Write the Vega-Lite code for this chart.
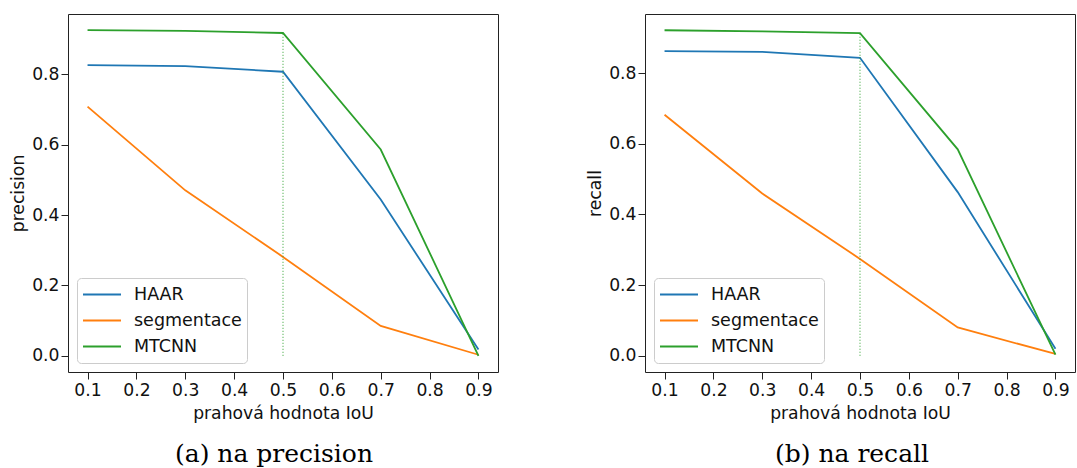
{
  "$schema": "https://vega.github.io/schema/vega-lite/v6.json",
  "padding": {"left": 8, "top": 13, "right": 0, "bottom": 0},
  "background": "white",
  "config": {
    "font": "DejaVu Sans",
    "view": {"stroke": "#222222", "strokeWidth": 1},
    "axis": {
      "grid": false, "domain": false, "tickColor": "#222222", "tickSize": 7, "tickWidth": 1,
      "labelFontSize": 17.2, "titleFontSize": 17.2, "labelColor": "#111111", "titleColor": "#111111",
      "titleFontWeight": "normal", "labelFont": "DejaVu Sans", "titleFont": "DejaVu Sans"
    },
    "axisX": {"labelPadding": 2, "titlePadding": 6},
    "axisY": {"labelPadding": 2, "titlePadding": 4.5},
    "legend": {
      "symbolType": "stroke", "symbolStrokeWidth": 2, "symbolSize": 1444,
      "labelFontSize": 17.5, "labelColor": "#111111", "labelFont": "DejaVu Sans", "labelOffset": 12,
      "strokeColor": "#cccccc", "fillColor": "rgba(255,255,255,0.8)", "cornerRadius": 4,
      "padding": 5, "clipHeight": 23, "rowPadding": 3, "offset": 9
    },
    "title": {"font": "DejaVu Serif", "fontSize": 25, "fontWeight": "normal", "color": "black", "orient": "bottom", "anchor": "middle", "offset": 21},
    "concat": {"spacing": 86}
  },
  "datasets": {
    "precision": [
      {"iou": 0.1, "method": "HAAR", "value": 0.826},
      {"iou": 0.3, "method": "HAAR", "value": 0.823},
      {"iou": 0.5, "method": "HAAR", "value": 0.807},
      {"iou": 0.7, "method": "HAAR", "value": 0.444},
      {"iou": 0.9, "method": "HAAR", "value": 0.018},
      {"iou": 0.1, "method": "segmentace", "value": 0.708},
      {"iou": 0.3, "method": "segmentace", "value": 0.470},
      {"iou": 0.5, "method": "segmentace", "value": 0.281},
      {"iou": 0.7, "method": "segmentace", "value": 0.085},
      {"iou": 0.9, "method": "segmentace", "value": 0.003},
      {"iou": 0.1, "method": "MTCNN", "value": 0.925},
      {"iou": 0.3, "method": "MTCNN", "value": 0.923},
      {"iou": 0.5, "method": "MTCNN", "value": 0.917},
      {"iou": 0.7, "method": "MTCNN", "value": 0.586},
      {"iou": 0.9, "method": "MTCNN", "value": 0.0}
    ],
    "recall": [
      {"iou": 0.1, "method": "HAAR", "value": 0.862},
      {"iou": 0.3, "method": "HAAR", "value": 0.860},
      {"iou": 0.5, "method": "HAAR", "value": 0.843},
      {"iou": 0.7, "method": "HAAR", "value": 0.463},
      {"iou": 0.9, "method": "HAAR", "value": 0.020},
      {"iou": 0.1, "method": "segmentace", "value": 0.682},
      {"iou": 0.3, "method": "segmentace", "value": 0.459},
      {"iou": 0.5, "method": "segmentace", "value": 0.274},
      {"iou": 0.7, "method": "segmentace", "value": 0.080},
      {"iou": 0.9, "method": "segmentace", "value": 0.005},
      {"iou": 0.1, "method": "MTCNN", "value": 0.921},
      {"iou": 0.3, "method": "MTCNN", "value": 0.918},
      {"iou": 0.5, "method": "MTCNN", "value": 0.913},
      {"iou": 0.7, "method": "MTCNN", "value": 0.584},
      {"iou": 0.9, "method": "MTCNN", "value": 0.003}
    ],
    "markerP": [{"iou": 0.5, "low": 0.0, "high": 0.917}],
    "markerR": [{"iou": 0.5, "low": 0.0, "high": 0.913}]
  },
  "resolve": {"legend": {"color": "independent"}},
  "hconcat": [
    {
      "width": 430, "height": 358,
      "title": {"text": "(a) na precision", "dx": -9},
      "layer": [
        {
          "data": {"name": "precision"},
          "mark": {"type": "line", "strokeWidth": 1.8},
          "encoding": {
            "x": {"field": "iou", "type": "quantitative", "scale": {"domain": [0.06, 0.94], "nice": false, "zero": false},
                  "axis": {"values": [0.1, 0.2, 0.3, 0.4, 0.5, 0.6, 0.7, 0.8, 0.9], "format": ".1f", "title": "prahová hodnota IoU"}},
            "y": {"field": "value", "type": "quantitative", "scale": {"domain": [-0.046, 0.971], "nice": false, "zero": false},
                  "axis": {"values": [0, 0.2, 0.4, 0.6, 0.8], "format": ".1f", "title": "precision"}},
            "color": {"field": "method", "type": "nominal",
                      "scale": {"domain": ["HAAR", "segmentace", "MTCNN"], "range": ["#1f77b4", "#ff7f0e", "#2ca02c"]},
                      "legend": {"title": null, "orient": "bottom-left"}}
          }
        },
        {
          "data": {"name": "markerP"},
          "mark": {"type": "rule", "color": "#2ca02c", "strokeDash": [1, 2], "strokeWidth": 1},
          "encoding": {
            "x": {"field": "iou", "type": "quantitative"},
            "y": {"field": "low", "type": "quantitative"},
            "y2": {"field": "high"}
          }
        }
      ]
    },
    {
      "width": 430, "height": 358,
      "title": {"text": "(b) na recall", "dx": -8},
      "layer": [
        {
          "data": {"name": "recall"},
          "mark": {"type": "line", "strokeWidth": 1.8},
          "encoding": {
            "x": {"field": "iou", "type": "quantitative", "scale": {"domain": [0.06, 0.94], "nice": false, "zero": false},
                  "axis": {"values": [0.1, 0.2, 0.3, 0.4, 0.5, 0.6, 0.7, 0.8, 0.9], "format": ".1f", "title": "prahová hodnota IoU"}},
            "y": {"field": "value", "type": "quantitative", "scale": {"domain": [-0.046, 0.967], "nice": false, "zero": false},
                  "axis": {"values": [0, 0.2, 0.4, 0.6, 0.8], "format": ".1f", "title": "recall"}},
            "color": {"field": "method", "type": "nominal",
                      "scale": {"domain": ["HAAR", "segmentace", "MTCNN"], "range": ["#1f77b4", "#ff7f0e", "#2ca02c"]},
                      "legend": {"title": null, "orient": "bottom-left"}}
          }
        },
        {
          "data": {"name": "markerR"},
          "mark": {"type": "rule", "color": "#2ca02c", "strokeDash": [1, 2], "strokeWidth": 1},
          "encoding": {
            "x": {"field": "iou", "type": "quantitative"},
            "y": {"field": "low", "type": "quantitative"},
            "y2": {"field": "high"}
          }
        }
      ]
    }
  ]
}
